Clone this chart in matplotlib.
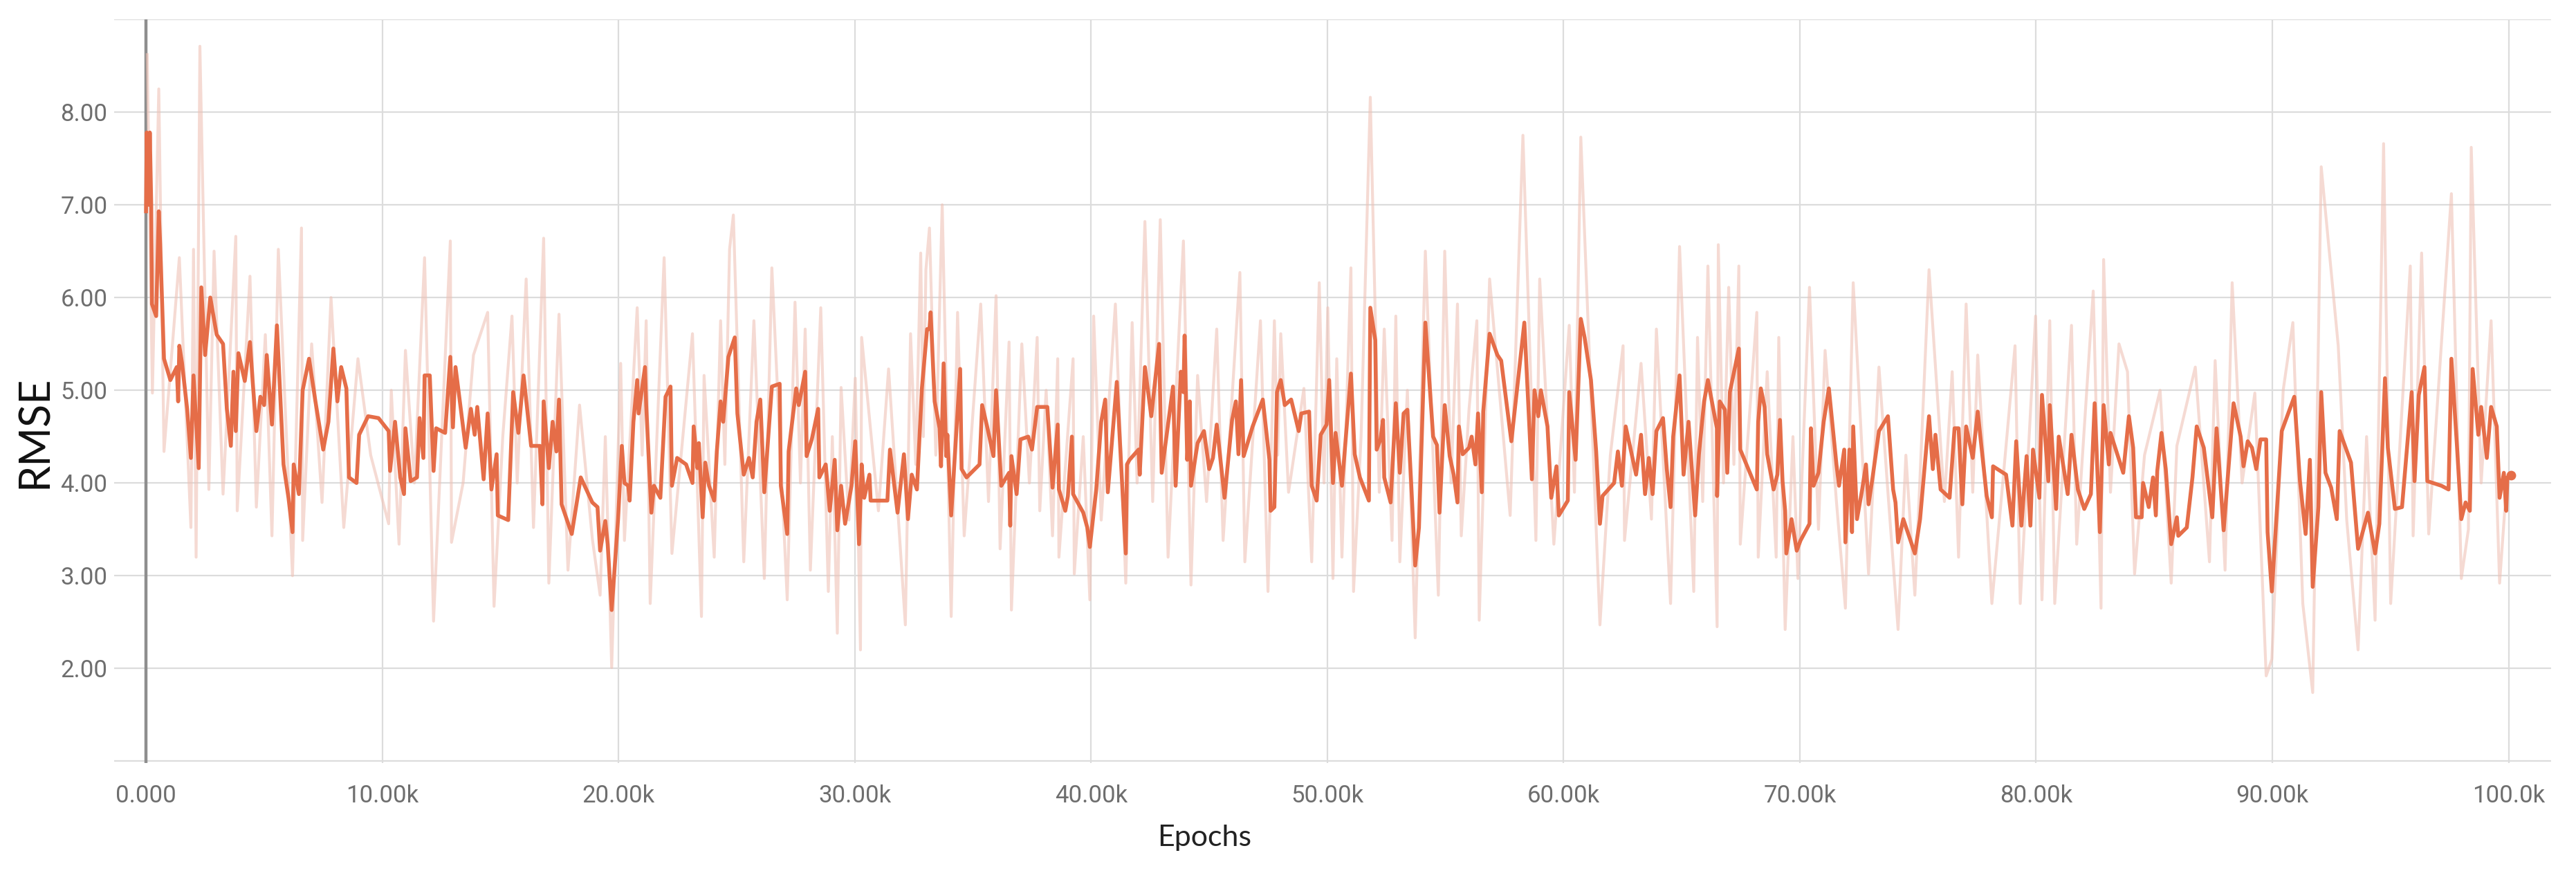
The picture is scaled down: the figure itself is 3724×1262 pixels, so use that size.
import matplotlib
matplotlib.use("Agg")
import matplotlib.pyplot as plt

# ---- data (epochs in thousands) ----
smooth_k = [
 0.00,0.03,0.12,0.16,0.22,0.25,0.43,0.54,0.60,0.76,1.03,1.30,1.36,1.41,1.52,1.74,1.90,2.01,2.23,2.34,2.50,2.72,2.99,3.26,3.42,3.59,3.70,3.80,3.91,4.18,4.40,4.51,4.67,4.84,5.00,5.11,5.33,5.54,5.82,6.03,6.20,6.25,6.47,6.63,6.90,7.17,7.50,7.72,7.93,8.10,8.26,8.48,8.59,8.91,9.02,9.40,9.84,10.27,10.33,10.54,10.76,10.92,10.98,11.20,11.47,11.58,11.74,11.79,12.01,12.17,12.28,12.66,12.88,12.99,13.10,13.53,13.75,13.91,14.02,14.29,14.46,14.62,14.84,14.89,15.33,15.54,15.76,15.98,16.30,
 16.67,16.78,16.83,17.05,17.21,17.37,17.48,17.59,18.02,18.40,18.89,19.11,19.22,19.44,19.54,19.71,19.98,20.14,20.25,20.41,20.47,20.63,20.79,20.85,21.12,21.17,21.39,21.50,21.77,21.99,22.20,22.26,22.48,22.86,23.13,23.18,23.34,23.40,23.56,23.67,23.83,24.05,24.16,24.32,24.43,24.65,24.92,25.03,25.30,25.52,25.68,25.84,26.00,26.17,26.49,26.82,26.87,27.14,27.20,27.52,27.63,27.90,27.96,28.18,28.45,28.50,28.77,28.94,29.15,29.26,29.42,29.59,29.86,30.02,30.18,30.29,30.40,30.62,30.67,31.38,31.49,31.81,32.08,32.25,32.41,32.63,32.84,33.06,
 33.16,33.21,33.38,33.59,33.65,33.76,33.87,33.92,34.08,34.46,34.52,34.73,35.28,35.39,35.60,35.87,35.98,36.20,36.53,36.58,36.63,36.85,37.01,37.34,37.50,37.72,38.15,38.37,38.59,38.64,38.91,39.02,39.19,39.24,39.67,39.84,39.95,40.22,40.43,40.60,40.71,41.09,41.47,41.52,41.63,42.01,42.06,42.28,42.55,42.88,42.99,43.47,43.58,43.80,43.91,43.96,44.07,44.18,44.23,44.51,44.78,45.00,45.16,45.32,45.65,45.97,46.13,46.24,46.35,46.46,46.84,47.27,47.55,47.60,47.76,47.87,48.03,48.20,48.47,48.79,48.90,49.23,49.34,49.55,49.72,
 49.97,50.08,50.24,50.35,50.62,51.00,51.16,51.38,51.76,51.82,52.03,52.09,52.25,52.36,52.41,52.68,52.90,53.07,53.23,53.39,53.55,53.72,53.88,54.15,54.48,54.64,54.75,54.97,55.18,55.35,55.51,55.57,55.73,56.00,56.11,56.27,56.38,56.54,56.60,56.87,57.20,57.36,57.79,58.34,58.66,58.77,58.93,59.04,59.32,59.48,59.70,59.80,60.18,60.24,60.51,60.73,60.89,61.16,61.38,61.54,61.65,62.14,62.30,62.47,62.63,63.07,63.28,63.45,63.61,63.77,63.93,64.21,64.37,64.53,64.64,64.91,65.08,65.29,65.57,65.73,65.95,66.11,66.49,
 66.50,66.61,66.83,66.93,67.04,67.42,67.48,68.18,68.24,68.35,68.51,68.62,68.89,69.05,69.16,69.27,69.38,69.43,69.65,69.87,70.03,70.41,70.47,70.58,70.79,71.01,71.23,71.55,71.66,71.88,71.93,72.10,72.21,72.26,72.42,72.64,72.80,72.91,73.08,73.35,73.73,73.95,74.05,74.16,74.38,74.87,75.09,75.47,75.63,75.74,75.96,76.34,76.55,76.72,76.88,77.04,77.32,77.53,77.91,78.13,78.18,78.73,79.00,79.16,79.38,79.60,79.76,79.87,80.14,80.25,80.52,80.58,80.85,80.96,81.34,81.50,81.77,82.04,82.32,82.48,82.70,82.86,83.08,
 83.15,83.69,83.93,84.11,84.23,84.47,84.53,84.77,84.95,85.07,85.13,85.31,85.49,85.72,85.96,86.02,86.38,86.62,86.80,87.10,87.46,87.64,87.94,88.36,88.66,88.78,88.96,89.14,89.32,89.50,89.74,89.80,89.98,90.40,90.93,91.17,91.41,91.59,91.71,91.95,92.07,92.25,92.49,92.73,92.85,93.33,93.63,94.05,94.35,94.53,94.77,94.89,95.19,95.49,95.90,96.02,96.20,96.44,96.56,97.16,97.46,97.58,97.82,98.00,98.18,98.36,98.48,98.72,98.84,99.08,99.26,99.50,99.62,99.80,99.90,99.95,100.10,
]
smooth_rmse = [
 6.93,7.78,7.00,7.78,7.00,5.93,5.80,6.93,6.57,5.34,5.11,5.25,4.88,5.48,5.30,4.80,4.27,5.16,4.16,6.11,5.38,6.00,5.60,5.50,4.80,4.40,5.20,4.56,5.40,5.10,5.52,5.11,4.56,4.93,4.84,5.38,4.63,5.70,4.20,3.84,3.47,4.20,3.88,5.00,5.34,4.88,4.36,4.66,5.45,4.88,5.25,5.02,4.06,4.00,4.52,4.72,4.70,4.56,4.13,4.66,4.06,3.88,4.59,4.02,4.06,4.70,4.27,5.16,5.16,4.13,4.59,4.54,5.36,4.60,5.25,4.38,4.80,4.52,4.82,4.04,4.75,3.93,4.31,3.65,3.60,4.98,4.54,5.16,4.40,
 4.40,3.77,4.88,4.16,4.66,4.34,4.90,3.77,3.45,4.06,3.79,3.74,3.27,3.59,3.34,2.63,3.61,4.40,4.00,3.97,3.81,4.66,5.11,4.75,5.25,4.84,3.68,3.97,3.84,4.93,5.04,3.97,4.27,4.20,4.00,4.61,4.16,4.43,3.63,4.22,3.97,3.81,4.34,4.88,4.66,5.36,5.57,4.75,4.09,4.27,4.06,4.66,4.90,3.90,5.04,5.07,3.97,3.45,4.34,5.02,4.84,5.20,4.29,4.47,4.80,4.06,4.20,3.70,4.25,3.49,3.97,3.56,3.97,4.45,3.34,4.20,3.84,4.09,3.81,3.81,4.36,3.68,4.31,3.61,4.09,3.93,5.02,5.66,
 5.66,5.84,4.88,4.59,4.18,5.29,4.29,4.52,3.65,5.23,4.15,4.06,4.20,4.84,4.61,4.29,5.00,3.97,4.11,3.54,4.29,3.88,4.47,4.50,4.36,4.82,4.82,3.95,4.63,3.93,3.70,3.86,4.50,3.88,3.68,3.52,3.31,3.93,4.66,4.90,3.90,5.09,3.24,4.20,4.25,4.36,4.09,5.25,4.72,5.50,4.11,5.04,3.97,5.20,4.98,5.59,4.25,4.88,3.97,4.43,4.56,4.15,4.27,4.63,3.84,4.68,4.88,4.31,5.11,4.29,4.61,4.90,4.25,3.70,3.74,4.98,5.11,4.84,4.90,4.56,4.75,4.77,3.97,3.81,4.52,
 4.63,5.11,4.00,4.54,3.97,5.18,4.31,4.06,3.81,5.89,5.54,4.36,4.47,4.68,4.06,3.79,4.86,4.11,4.75,4.79,4.00,3.11,3.52,5.73,4.50,4.41,3.68,4.84,4.29,4.09,3.79,4.61,4.31,4.38,4.50,4.20,4.75,3.90,4.77,5.61,5.38,5.32,4.45,5.73,4.04,5.00,4.72,5.00,4.61,3.84,4.18,3.65,3.81,4.98,4.25,5.77,5.57,5.11,4.34,3.56,3.86,4.00,4.34,3.97,4.61,4.09,4.52,3.88,4.27,3.88,4.56,4.70,4.15,3.74,4.50,5.16,4.09,4.66,3.65,4.31,4.88,5.11,4.59,
 3.86,4.88,4.79,4.11,4.98,5.45,4.36,3.93,4.66,5.02,4.82,4.31,3.93,4.09,4.68,4.02,3.70,3.24,3.61,3.27,3.38,3.56,4.59,3.97,4.11,4.66,5.02,4.20,3.97,4.36,3.36,4.36,3.47,4.61,3.61,3.93,4.20,3.77,4.06,4.56,4.72,3.93,3.79,3.36,3.61,3.24,3.61,4.72,4.15,4.52,3.93,3.84,4.59,4.59,3.77,4.61,4.27,4.77,3.86,3.63,4.18,4.09,3.54,4.45,3.54,4.29,3.54,4.36,3.84,4.95,4.02,4.84,3.72,4.50,3.88,4.52,3.93,3.72,3.88,4.86,3.47,4.84,4.20,
 4.54,4.11,4.72,4.38,3.63,3.63,4.00,3.74,4.06,3.65,4.13,4.54,4.15,3.34,3.63,3.43,3.52,4.06,4.61,4.38,3.63,4.59,3.49,4.86,4.50,4.18,4.45,4.38,4.15,4.47,4.47,3.47,2.83,4.56,4.93,4.02,3.45,4.25,2.88,3.74,4.98,4.11,3.95,3.61,4.56,4.22,3.29,3.68,3.24,3.56,5.13,4.38,3.72,3.74,4.98,4.02,4.95,5.25,4.02,3.97,3.93,5.34,4.38,3.61,3.79,3.70,5.23,4.52,4.82,4.27,4.82,4.61,3.84,4.11,3.70,4.06,4.08,
]

raw_k = [
 0.05,0.27,0.54,0.76,1.41,1.90,2.01,2.12,2.28,2.66,2.88,3.26,3.80,3.86,4.40,4.67,5.05,5.33,5.60,6.20,6.58,6.63,7.01,7.45,7.83,8.37,8.97,9.51,10.27,10.38,10.71,10.98,11.36,11.79,12.17,12.88,12.93,13.42,13.86,14.46,14.73,15.10,15.49,15.71,16.09,
 16.40,16.83,17.05,17.48,17.86,18.35,18.89,19.22,19.44,19.71,20.09,20.25,20.79,21.00,21.17,21.34,21.93,22.26,23.13,23.51,23.62,24.05,24.32,24.50,24.70,24.86,25.30,25.73,26.17,26.49,27.14,27.47,27.70,27.90,28.12,28.56,28.88,29.05,29.26,29.42,29.75,30.02,30.24,30.29,31.00,31.43,32.14,32.36,32.58,32.79,32.90,33.01,
 33.16,33.43,33.70,34.08,34.35,34.63,35.33,35.66,35.98,36.15,36.53,36.63,37.07,37.39,37.72,37.83,38.10,38.37,38.59,38.64,39.24,39.29,39.67,39.95,40.11,40.43,41.03,41.47,41.74,41.95,42.28,42.61,42.93,43.26,43.91,44.23,44.51,44.89,45.32,45.59,46.30,46.51,47.17,47.49,47.76,47.90,48.03,48.36,49.01,49.34,49.66,
 49.86,50.02,50.24,50.40,50.62,51.00,51.11,51.43,51.82,52.20,52.41,52.74,52.90,53.07,53.39,53.72,54.15,54.70,54.97,55.24,55.51,55.67,56.00,56.33,56.43,56.87,57.74,58.28,58.83,58.99,59.59,60.24,60.46,60.73,61.54,61.98,62.52,62.58,63.28,63.72,63.93,64.53,64.91,65.51,65.67,65.89,66.11,
 66.50,66.55,66.77,66.99,67.21,67.42,67.48,68.18,68.24,68.62,69.00,69.11,69.38,69.71,69.92,70.41,70.79,71.07,71.55,71.93,72.26,72.91,73.35,73.73,74.16,74.49,74.87,75.47,76.12,76.45,76.72,77.04,77.32,77.53,78.13,79.11,79.33,79.98,80.25,80.58,80.79,81.50,81.72,82.42,82.75,82.86,
 83.15,83.51,83.87,84.17,84.59,85.25,85.72,85.96,86.74,87.34,87.58,88.00,88.30,88.72,89.26,89.74,89.98,90.46,90.87,91.29,91.71,92.07,92.79,93.15,93.63,93.99,94.35,94.71,95.01,95.84,95.96,96.32,96.62,97.58,98.00,98.30,98.42,98.84,99.26,99.62,99.92,
]
raw_rmse = [
 8.62,4.97,8.25,4.34,6.43,3.52,6.52,3.20,8.71,3.93,6.50,3.88,6.66,3.70,6.23,3.74,5.60,3.43,6.52,3.00,6.75,3.38,5.50,3.79,6.00,3.52,5.34,4.30,3.56,5.00,3.34,5.43,4.00,6.43,2.51,6.61,3.36,4.00,5.38,5.84,2.67,4.50,5.80,4.00,6.20,
 3.52,6.64,2.92,5.82,3.06,4.84,3.40,2.79,4.50,2.01,5.29,3.38,5.89,4.30,5.75,2.70,6.43,3.24,5.61,2.56,5.16,3.20,5.75,4.20,6.52,6.89,3.15,5.75,2.97,6.32,2.74,5.95,4.00,5.66,3.06,5.89,2.83,4.50,2.38,5.03,3.60,5.13,2.20,5.57,3.70,5.23,2.47,5.61,4.20,6.48,4.50,6.30,
 6.75,4.30,7.00,2.56,5.84,3.43,5.93,3.80,6.02,3.29,5.52,2.63,5.50,4.00,5.57,3.70,5.00,3.43,5.34,3.20,5.34,3.02,4.50,2.74,5.80,3.60,5.93,2.92,5.73,4.00,6.82,3.80,6.84,3.20,6.61,2.90,5.16,3.80,5.66,3.38,6.27,3.15,5.75,2.83,5.75,4.30,5.61,3.90,5.02,3.15,6.16,
 4.00,5.89,2.97,5.34,3.20,6.32,2.83,4.50,8.16,3.90,5.66,3.38,5.80,3.15,5.00,2.33,6.50,2.79,6.50,4.00,5.93,3.43,4.80,5.75,2.52,6.20,3.65,7.75,3.38,6.20,3.34,5.70,3.90,7.73,2.47,4.30,5.48,3.38,5.29,3.61,5.66,2.70,6.55,2.83,5.57,3.80,6.34,
 2.45,6.57,4.00,6.11,4.20,6.34,3.34,5.84,3.20,5.20,3.20,5.57,2.42,4.50,2.97,6.11,3.50,5.43,3.80,2.65,6.16,3.02,5.25,3.90,2.42,4.30,2.79,6.30,3.80,5.20,3.20,5.93,3.90,5.38,2.70,5.48,2.70,5.80,2.74,5.75,2.70,5.70,3.34,6.07,2.65,6.41,
 3.90,5.50,5.20,3.02,4.30,5.00,2.92,4.40,5.25,3.15,5.32,3.06,6.16,4.00,4.97,1.92,2.10,5.00,5.73,2.70,1.74,7.41,5.48,3.60,2.20,4.50,2.52,7.66,2.70,6.34,3.43,6.48,3.45,7.12,2.97,3.50,7.62,4.00,5.75,2.92,4.00,
]

xtick_vals = [0, 10, 20, 30, 40, 50, 60, 70, 80, 90, 100]
xtick_labels = ["0.000", "10.00k", "20.00k", "30.00k", "40.00k", "50.00k",
                "60.00k", "70.00k", "80.00k", "90.00k", "100.0k"]
ytick_vals = [2, 3, 4, 5, 6, 7, 8]
ytick_labels = ["2.00", "3.00", "4.00", "5.00", "6.00", "7.00", "8.00"]

W, H = 3724, 1262
fig = plt.figure(figsize=(W / 100, H / 100), dpi=100)
ax = fig.add_axes([165 / W, 1 - 1103 / H, (3688 - 165) / W, (1103 - 28) / H])

xs = [k * 1000 for k in smooth_k]
xr = [k * 1000 for k in raw_k]

ax.set_xlim(-1350, 101800)
ax.set_ylim(0.98, 9.0)

grid_c = "#dcdcdc"
for yv in range(1, 10):
    ax.axhline(yv, color=grid_c, lw=1.6, zorder=0)
for xv in xtick_vals:
    if xv == 0:
        continue
    ax.axvline(xv * 1000, color=grid_c, lw=1.6, zorder=0)
ax.axvline(0, color="#8e8e8e", lw=3.2, zorder=1)

ax.plot(xr, raw_rmse, color="#efc2b6", lw=3.0, alpha=0.6, zorder=2)
ax.plot(xs, smooth_rmse, color="#e56d48", lw=4.0, zorder=3)
ax.plot([xs[-1]], [smooth_rmse[-1]], "o", color="#e56d48", ms=9, zorder=4)

for s in ax.spines.values():
    s.set_visible(False)

ax.set_xticks([v * 1000 for v in xtick_vals])
ax.set_xticklabels(xtick_labels)
ax.set_yticks(ytick_vals)
ax.set_yticklabels(ytick_labels)
ax.tick_params(axis="both", length=0, colors="#6e6e6e", labelsize=25)
ax.tick_params(axis="x", pad=22)
ax.tick_params(axis="y", pad=7)
for lab in ax.get_xticklabels() + ax.get_yticklabels():
    lab.set_fontfamily("Roboto")

fig.text(50 / W, 1 - 624 / H, "RMSE", rotation=90, ha="center", va="center",
         fontsize=44, family="Lato", color="#111111")
fig.text(1741 / W, 1 - 1211 / H, "Epochs", ha="center", va="center",
         fontsize=31, family="Lato", color="#222222")

fig.savefig("out.png", dpi=100, facecolor="white")
